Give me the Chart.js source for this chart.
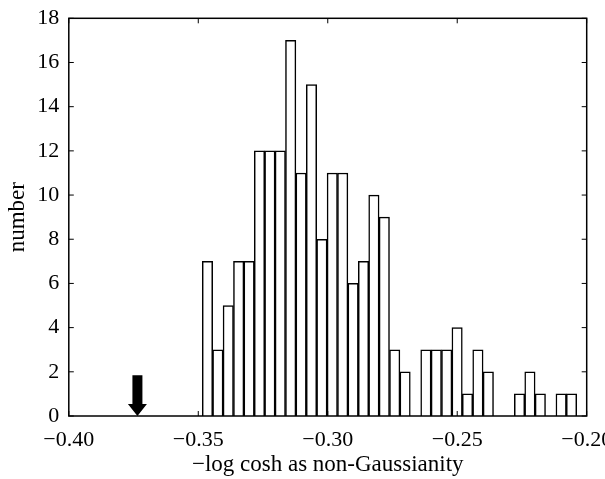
<!DOCTYPE html>
<html>
<head>
<meta charset="utf-8">
<title>-log cosh histogram</title>
<script src="https://cdn.jsdelivr.net/npm/chart.js@4/dist/chart.umd.min.js"></script>
<style>
  html, body { margin: 0; padding: 0; background: #fff; }
  canvas { display: block; }
</style>
</head>
<body>
<canvas id="hist" width="605" height="479"></canvas>
<script>
// histogram bins: first left edge and width, counts per bin
const binStart = -0.34846;
const binWidth = 0.004017;
const counts = [7, 3, 5, 7, 7, 12, 12, 12, 17, 11, 15, 8, 11, 11, 6, 7, 10, 9,
                3, 2, 0, 3, 3, 3, 4, 1, 3, 2, 0, 0, 1, 2, 1, 0, 1, 1];

// axis ranges / ticks
const xTicks = [-0.40, -0.35, -0.30, -0.25, -0.20];
const yTicks = [0, 2, 4, 6, 8, 10, 12, 14, 16, 18];

// marked value (arrow)
const markerX = -0.3735;
const markerTop = 1.85;

const fontFamily = "'Liberation Serif', 'DejaVu Serif', serif";

const binCenters = counts.map((c, i) => binStart + (i + 0.5) * binWidth);
const histData = counts.map((c, i) => ({ x: binCenters[i], y: c }));

const fmt = v => (v < 0 ? '\u2212' : '') + Math.abs(v).toFixed(2);

// box around plot area with inward ticks on all sides
const framePlugin = {
  id: 'frame',
  afterDraw(chart) {
    const { ctx, chartArea: a, scales: { x, y } } = chart;
    const tl = 5;
    ctx.save();
    ctx.strokeStyle = '#000';
    ctx.lineWidth = 1.5;
    ctx.strokeRect(a.left, a.top, a.right - a.left, a.bottom - a.top);
    ctx.beginPath();
    xTicks.forEach(v => {
      const px = x.getPixelForValue(v);
      ctx.moveTo(px, a.bottom); ctx.lineTo(px, a.bottom - tl);
      ctx.moveTo(px, a.top); ctx.lineTo(px, a.top + tl);
    });
    yTicks.forEach(v => {
      const py = y.getPixelForValue(v);
      ctx.moveTo(a.left, py); ctx.lineTo(a.left + tl, py);
      ctx.moveTo(a.right, py); ctx.lineTo(a.right - tl, py);
    });
    ctx.lineWidth = 1;
    ctx.stroke();
    ctx.restore();
  }
};

// thick down arrow at the marked value
const arrowPlugin = {
  id: 'arrow',
  afterDatasetsDraw(chart) {
    const { ctx, scales: { x, y } } = chart;
    const cx = x.getPixelForValue(markerX);
    const top = y.getPixelForValue(markerTop);
    const bot = y.getPixelForValue(0);
    const shaftW = 10, headW = 19, headH = 12;
    ctx.save();
    ctx.fillStyle = '#000';
    ctx.beginPath();
    ctx.moveTo(cx - shaftW / 2, top);
    ctx.lineTo(cx + shaftW / 2, top);
    ctx.lineTo(cx + shaftW / 2, bot - headH);
    ctx.lineTo(cx + headW / 2, bot - headH);
    ctx.lineTo(cx, bot);
    ctx.lineTo(cx - headW / 2, bot - headH);
    ctx.lineTo(cx - shaftW / 2, bot - headH);
    ctx.closePath();
    ctx.fill();
    ctx.restore();
  }
};

new Chart(document.getElementById('hist'), {
  type: 'bar',
  data: {
    datasets: [{
      label: 'number',
      data: histData,
      backgroundColor: '#fff',
      borderColor: '#000',
      borderWidth: 1.5,
      barPercentage: 1,
      categoryPercentage: 1
    }]
  },
  options: {
    responsive: false,
    animation: false,
    layout: { padding: { top: 18.3, right: 18.3, left: 0, bottom: 0 } },
    plugins: {
      legend: { display: false },
      tooltip: { enabled: false }
    },
    scales: {
      x: {
        type: 'linear',
        offset: false,
        min: -0.40,
        max: -0.20,
        grid: { display: false, drawTicks: false, offset: false },
        border: { display: false },
        afterBuildTicks: s => { s.ticks = xTicks.map(v => ({ value: v })); },
        afterFit: s => { s.height = 63; s.paddingLeft = 0; s.paddingRight = 0; },
        ticks: {
          padding: 11,
          maxRotation: 0,
          autoSkip: false,
          color: '#000',
          font: { family: fontFamily, size: 22 },
          callback: v => fmt(v)
        },
        title: {
          display: true,
          text: '\u2212log cosh as non-Gaussianity',
          color: '#000',
          font: { family: fontFamily, size: 23 },
          padding: { top: 0, bottom: 0 }
        }
      },
      y: {
        min: 0,
        max: 18,
        grid: { display: false, drawTicks: false },
        border: { display: false },
        afterBuildTicks: s => { s.ticks = yTicks.map(v => ({ value: v })); },
        afterFit: s => { s.width = 68.8; s.paddingTop = 0; s.paddingBottom = 0; },
        ticks: {
          padding: 9.5,
          autoSkip: false,
          color: '#000',
          font: { family: fontFamily, size: 22 }
        },
        title: {
          display: true,
          text: 'number',
          color: '#000',
          font: { family: fontFamily, size: 23 },
          padding: { top: 4.2, bottom: 0 }
        }
      }
    }
  },
  plugins: [arrowPlugin, framePlugin]
});
</script>
</body>
</html>
